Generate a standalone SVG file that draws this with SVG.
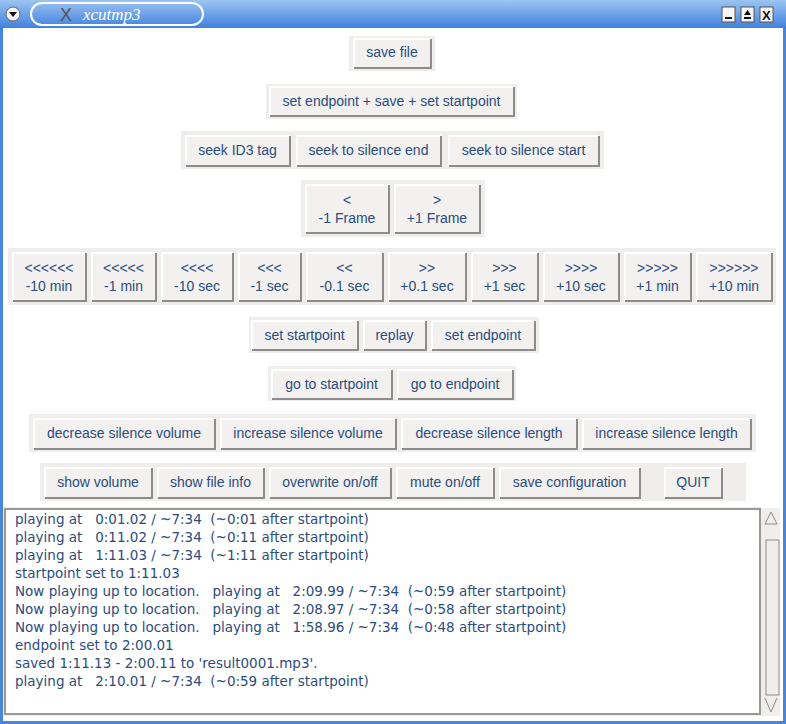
<svg xmlns="http://www.w3.org/2000/svg" width="786" height="724" viewBox="0 0 786 724">
<defs>
<linearGradient id="tb" x1="0" y1="0" x2="0" y2="1"><stop offset="0" stop-color="#9cc4f2"/><stop offset="1" stop-color="#3d7fdc"/></linearGradient>
</defs>
<style>
.fr{fill:#efeeed}
.b{fill:#f2f1f0;stroke:none}
.hl{stroke:#ffffff;stroke-width:2;fill:none}
.sh{stroke:#8e8c88;stroke-width:2;fill:none}
text{font-family:"Liberation Sans",Arial,sans-serif;font-size:14px;fill:#2c4c7c}
.c{text-anchor:middle}
.log{white-space:pre;font-family:"DejaVu Sans",sans-serif;font-size:13.5px}
</style>
<rect x="0" y="0" width="786" height="724" fill="#4a86d8"/>
<rect x="0" y="0" width="786" height="29" fill="url(#tb)"/>
<rect x="3" y="28" width="780" height="693" fill="#ffffff"/>
<g id="titlebar">
<circle cx="13" cy="14" r="7" fill="#f4f4f4" stroke="#666" stroke-width="1"/>
<path d="M9 12 L17 12 L13 17 Z" fill="#111"/>
<rect x="31" y="3" width="172" height="22" rx="11" fill="none" stroke="#ffffff" stroke-width="2"/>
<text x="60" y="21" style="font-family:'Liberation Sans',sans-serif;font-size:18px;fill:#555">X</text>
<text x="83" y="20" style="font-family:'Liberation Serif',serif;font-style:italic;font-size:17px;fill:#ffffff">xcutmp3</text>
<rect x="722" y="7" width="13" height="15" fill="#f4f4f4" stroke="#555"/><rect x="725" y="17" width="7" height="2" fill="#111"/>
<rect x="741" y="7" width="13" height="15" fill="#f4f4f4" stroke="#555"/><path d="M744 15 L751 15 L747.5 10 Z M744 17 h7 v2 h-7 Z" fill="#111"/>
<rect x="760" y="7" width="13" height="15" fill="#f4f4f4" stroke="#555"/><text x="762" y="20" style="font-size:13px;font-weight:bold;fill:#111">X</text>
</g>
<g id="frames">
<rect class="fr" x="349" y="36" width="86" height="35"/>
<rect class="fr" x="266" y="84" width="251" height="35"/>
<rect class="fr" x="181" y="131" width="423" height="38"/>
<rect class="fr" x="301" y="180" width="184" height="57"/>
<rect class="fr" x="8" y="248" width="768" height="57"/>
<rect class="fr" x="249" y="317" width="290" height="36"/>
<rect class="fr" x="268" y="366" width="248" height="35"/>
<rect class="fr" x="29" y="414" width="727" height="38"/>
<rect class="fr" x="40" y="463" width="706" height="38"/>
</g>
<g id="buttons">
<g id="b-save"><rect class="b" x="353" y="38" width="78" height="30"/><path class="hl" d="M354 68V39H431"/><path class="sh" d="M354 68H431V39"/><text class="c" x="392" y="57">save file</text></g>
<g id="b-sess"><rect class="b" x="269" y="86" width="245" height="30"/><path class="hl" d="M270 116V87H514"/><path class="sh" d="M270 116H514V87"/><text class="c" x="391.5" y="106">set endpoint + save + set startpoint</text></g>
<g id="b-id3"><rect class="b" x="185" y="135" width="105" height="31"/><path class="hl" d="M186 166V136H290"/><path class="sh" d="M186 166H290V136"/><text class="c" x="237.5" y="155">seek ID3 tag</text></g>
<g id="b-sse"><rect class="b" x="296" y="135" width="145" height="31"/><path class="hl" d="M297 166V136H441"/><path class="sh" d="M297 166H441V136"/><text class="c" x="368.5" y="155">seek to silence end</text></g>
<g id="b-sss"><rect class="b" x="448" y="135" width="151" height="31"/><path class="hl" d="M449 166V136H599"/><path class="sh" d="M449 166H599V136"/><text class="c" x="523.5" y="155">seek to silence start</text></g>
<g id="b-pf"><rect class="b" x="305" y="184" width="84" height="49"/><path class="hl" d="M306 233V185H389"/><path class="sh" d="M306 233H389V185"/><text class="c" x="347" y="205">&lt;</text><text class="c" x="347" y="223">-1 Frame</text></g>
<g id="b-nf"><rect class="b" x="394" y="184" width="86" height="49"/><path class="hl" d="M395 233V185H480"/><path class="sh" d="M395 233H480V185"/><text class="c" x="437" y="205">&gt;</text><text class="c" x="437" y="223">+1 Frame</text></g>
<g id="b-m10m"><rect class="b" x="12" y="252" width="74" height="49"/><path class="hl" d="M13 301V253H86"/><path class="sh" d="M13 301H86V253"/><text class="c" x="49" y="273">&lt;&lt;&lt;&lt;&lt;&lt;</text><text class="c" x="49" y="291">-10 min</text></g>
<g id="b-m1m"><rect class="b" x="91" y="252" width="65" height="49"/><path class="hl" d="M92 301V253H156"/><path class="sh" d="M92 301H156V253"/><text class="c" x="123.5" y="273">&lt;&lt;&lt;&lt;&lt;</text><text class="c" x="123.5" y="291">-1 min</text></g>
<g id="b-m10s"><rect class="b" x="161" y="252" width="72" height="49"/><path class="hl" d="M162 301V253H233"/><path class="sh" d="M162 301H233V253"/><text class="c" x="197" y="273">&lt;&lt;&lt;&lt;</text><text class="c" x="197" y="291">-10 sec</text></g>
<g id="b-m1s"><rect class="b" x="238" y="252" width="63" height="49"/><path class="hl" d="M239 301V253H301"/><path class="sh" d="M239 301H301V253"/><text class="c" x="269.5" y="273">&lt;&lt;&lt;</text><text class="c" x="269.5" y="291">-1 sec</text></g>
<g id="b-m01"><rect class="b" x="306" y="252" width="77" height="49"/><path class="hl" d="M307 301V253H383"/><path class="sh" d="M307 301H383V253"/><text class="c" x="344.5" y="273">&lt;&lt;</text><text class="c" x="344.5" y="291">-0.1 sec</text></g>
<g id="b-p01"><rect class="b" x="388" y="252" width="78" height="49"/><path class="hl" d="M389 301V253H466"/><path class="sh" d="M389 301H466V253"/><text class="c" x="427" y="273">&gt;&gt;</text><text class="c" x="427" y="291">+0.1 sec</text></g>
<g id="b-p1s"><rect class="b" x="471" y="252" width="67" height="49"/><path class="hl" d="M472 301V253H538"/><path class="sh" d="M472 301H538V253"/><text class="c" x="504.5" y="273">&gt;&gt;&gt;</text><text class="c" x="504.5" y="291">+1 sec</text></g>
<g id="b-p10s"><rect class="b" x="543" y="252" width="76" height="49"/><path class="hl" d="M544 301V253H619"/><path class="sh" d="M544 301H619V253"/><text class="c" x="581" y="273">&gt;&gt;&gt;&gt;</text><text class="c" x="581" y="291">+10 sec</text></g>
<g id="b-p1m"><rect class="b" x="624" y="252" width="67" height="49"/><path class="hl" d="M625 301V253H691"/><path class="sh" d="M625 301H691V253"/><text class="c" x="657.5" y="273">&gt;&gt;&gt;&gt;&gt;</text><text class="c" x="657.5" y="291">+1 min</text></g>
<g id="b-p10m"><rect class="b" x="696" y="252" width="76" height="49"/><path class="hl" d="M697 301V253H772"/><path class="sh" d="M697 301H772V253"/><text class="c" x="734" y="273">&gt;&gt;&gt;&gt;&gt;&gt;</text><text class="c" x="734" y="291">+10 min</text></g>
<g id="b-ssp"><rect class="b" x="251" y="320" width="107" height="30"/><path class="hl" d="M252 350V321H358"/><path class="sh" d="M252 350H358V321"/><text class="c" x="304.5" y="340">set startpoint</text></g>
<g id="b-rep"><rect class="b" x="363" y="320" width="63" height="30"/><path class="hl" d="M364 350V321H426"/><path class="sh" d="M364 350H426V321"/><text class="c" x="394.5" y="340">replay</text></g>
<g id="b-sep"><rect class="b" x="431" y="320" width="104" height="30"/><path class="hl" d="M432 350V321H535"/><path class="sh" d="M432 350H535V321"/><text class="c" x="483" y="340">set endpoint</text></g>
<g id="b-gsp"><rect class="b" x="271" y="369" width="121" height="30"/><path class="hl" d="M272 399V370H392"/><path class="sh" d="M272 399H392V370"/><text class="c" x="331.5" y="389">go to startpoint</text></g>
<g id="b-gep"><rect class="b" x="397" y="369" width="116" height="30"/><path class="hl" d="M398 399V370H513"/><path class="sh" d="M398 399H513V370"/><text class="c" x="455" y="389">go to endpoint</text></g>
<g id="b-dsv"><rect class="b" x="33" y="418" width="182" height="31"/><path class="hl" d="M34 449V419H215"/><path class="sh" d="M34 449H215V419"/><text class="c" x="124" y="438">decrease silence volume</text></g>
<g id="b-isv"><rect class="b" x="220" y="418" width="176" height="31"/><path class="hl" d="M221 449V419H396"/><path class="sh" d="M221 449H396V419"/><text class="c" x="308" y="438">increase silence volume</text></g>
<g id="b-dsl"><rect class="b" x="401" y="418" width="176" height="31"/><path class="hl" d="M402 449V419H577"/><path class="sh" d="M402 449H577V419"/><text class="c" x="489" y="438">decrease silence length</text></g>
<g id="b-isl"><rect class="b" x="582" y="418" width="169" height="31"/><path class="hl" d="M583 449V419H751"/><path class="sh" d="M583 449H751V419"/><text class="c" x="666.5" y="438">increase silence length</text></g>
<g id="b-vol"><rect class="b" x="44" y="467" width="108" height="31"/><path class="hl" d="M45 498V468H152"/><path class="sh" d="M45 498H152V468"/><text class="c" x="98" y="487">show volume</text></g>
<g id="b-info"><rect class="b" x="157" y="467" width="107" height="31"/><path class="hl" d="M158 498V468H264"/><path class="sh" d="M158 498H264V468"/><text class="c" x="210.5" y="487">show file info</text></g>
<g id="b-ow"><rect class="b" x="269" y="467" width="122" height="31"/><path class="hl" d="M270 498V468H391"/><path class="sh" d="M270 498H391V468"/><text class="c" x="330" y="487">overwrite on/off</text></g>
<g id="b-mute"><rect class="b" x="396" y="467" width="98" height="31"/><path class="hl" d="M397 498V468H494"/><path class="sh" d="M397 498H494V468"/><text class="c" x="445" y="487">mute on/off</text></g>
<g id="b-cfg"><rect class="b" x="499" y="467" width="141" height="31"/><path class="hl" d="M500 498V468H640"/><path class="sh" d="M500 498H640V468"/><text class="c" x="569.5" y="487">save configuration</text></g>
<g id="b-quit"><rect class="b" x="664" y="467" width="58" height="31"/><path class="hl" d="M665 498V468H722"/><path class="sh" d="M665 498H722V468"/><text class="c" x="693" y="487">QUIT</text></g>
</g>
<g id="log">
<rect x="3" y="507" width="759" height="209" fill="#efeeed"/>
<rect x="5" y="509" width="755" height="205" fill="#ffffff" stroke="#9a9894" stroke-width="2"/>
<text class="log" x="15" y="524">playing at   0:01.02 / ~7:34  (~0:01 after startpoint)</text>
<text class="log" x="15" y="542">playing at   0:11.02 / ~7:34  (~0:11 after startpoint)</text>
<text class="log" x="15" y="560">playing at   1:11.03 / ~7:34  (~1:11 after startpoint)</text>
<text class="log" x="15" y="578">startpoint set to 1:11.03</text>
<text class="log" x="15" y="596">Now playing up to location.   playing at   2:09.99 / ~7:34  (~0:59 after startpoint)</text>
<text class="log" x="15" y="614">Now playing up to location.   playing at   2:08.97 / ~7:34  (~0:58 after startpoint)</text>
<text class="log" x="15" y="632">Now playing up to location.   playing at   1:58.96 / ~7:34  (~0:48 after startpoint)</text>
<text class="log" x="15" y="650">endpoint set to 2:00.01</text>
<text class="log" x="15" y="668">saved 1:11.13 - 2:00.11 to 'result0001.mp3'.</text>
<text class="log" x="15" y="686">playing at   2:10.01 / ~7:34  (~0:59 after startpoint)</text>
</g>
<g id="scrollbar">
<rect x="762" y="508" width="18" height="208" fill="#efeeed"/>
<path d="M765 524 L771 512 L777 524 Z" fill="none" stroke="#8e8c88"/>
<rect x="766" y="540" width="13" height="155" fill="#efeeed" stroke="#8e8c88"/>
<path d="M765 698 L771 712 L777 698" fill="none" stroke="#8e8c88"/>
</g>
</svg>
